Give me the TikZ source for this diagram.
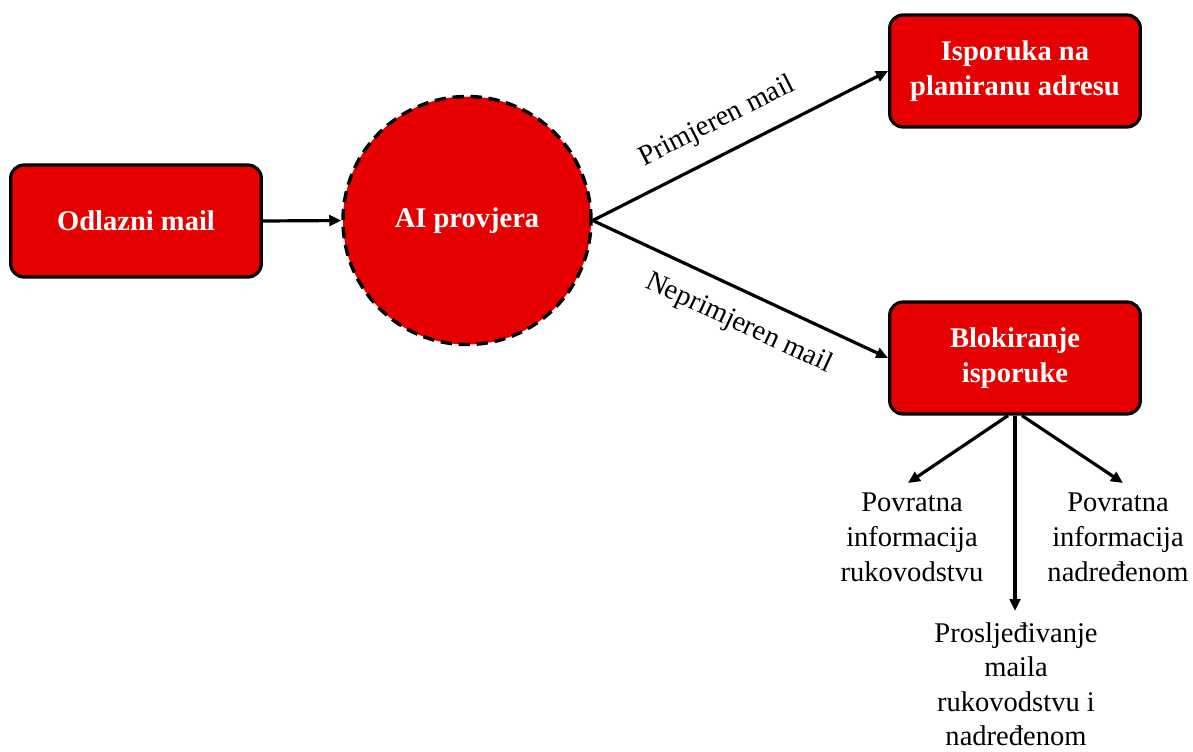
\documentclass[tikz,border=0pt]{standalone}
\usepackage{fontspec}
\setmainfont{Liberation Serif}
\usetikzlibrary{arrows.meta}
\definecolor{boxred}{HTML}{E60000}
\tikzset{
  redbox/.style={draw=black, line width=2.4pt, fill=boxred, rounded corners=10pt,
    minimum width=188pt, minimum height=84pt, inner sep=0pt,
    text=white, font=\fontsize{21.4}{25.9}\selectfont\bfseries, align=center},
  redcircle/.style={circle, draw=black, line width=2.6pt, dash pattern=on 8.5pt off 5pt,
    fill=boxred, minimum size=186pt, inner sep=0pt,
    text=white, font=\fontsize{21.4}{25.9}\selectfont\bfseries},
  plain/.style={font=\fontsize{21.4}{25.9}\selectfont, align=center, inner sep=0pt},
  arr/.style={line width=2.4pt, -{Triangle[length=9pt,width=8pt]}},
  lbl/.style={font=\fontsize{21.4}{25.9}\selectfont, sloped, inner sep=0pt}
}
\begin{document}
\begin{tikzpicture}[x=0.75pt,y=-0.75pt]
\useasboundingbox (0,0) rectangle (1193,751);
\node[redbox] (odl) at (136,221) {Odlazni mail};
\node[redcircle] (ai) at (467,220.5) {AI provjera};
\node[redbox] (isp) at (1015,71) {Isporuka na\\planiranu adresu};
\node[redbox] (blk) at (1015,358) {Blokiranje\\isporuke};
\draw[arr] (odl.east) -- (ai.west);
\draw[arr] (ai.east) -- node[lbl, pos=0.47, above=13pt] {Primjeren mail} (isp.west);
\draw[arr] (ai.east) -- node[lbl, pos=0.54, below=13pt] {Neprimjeren mail} (blk.west);
\coordinate (b1) at ([xshift=-5.25pt]blk.south);
\coordinate (b2) at ([xshift=5.25pt]blk.south);
\coordinate (t1) at (908,483);
\coordinate (t2) at (1015,611);
\coordinate (t3) at (1123,483);
\draw[arr] (b1) -- (t1);
\draw[arr] (blk.south) -- (t2);
\draw[arr] (b2) -- (t3);
\node[plain, anchor=north] (p1) at (912,493) {Povratna\\informacija\\rukovodstvu};
\node[plain, anchor=north] (p2) at (1118,493) {Povratna\\informacija\\nadređenom};
\node[plain, anchor=north] (p3) at (1016,622) {Prosljeđivanje\\maila\\rukovodstvu i\\nadređenom};
\end{tikzpicture}
\end{document}
